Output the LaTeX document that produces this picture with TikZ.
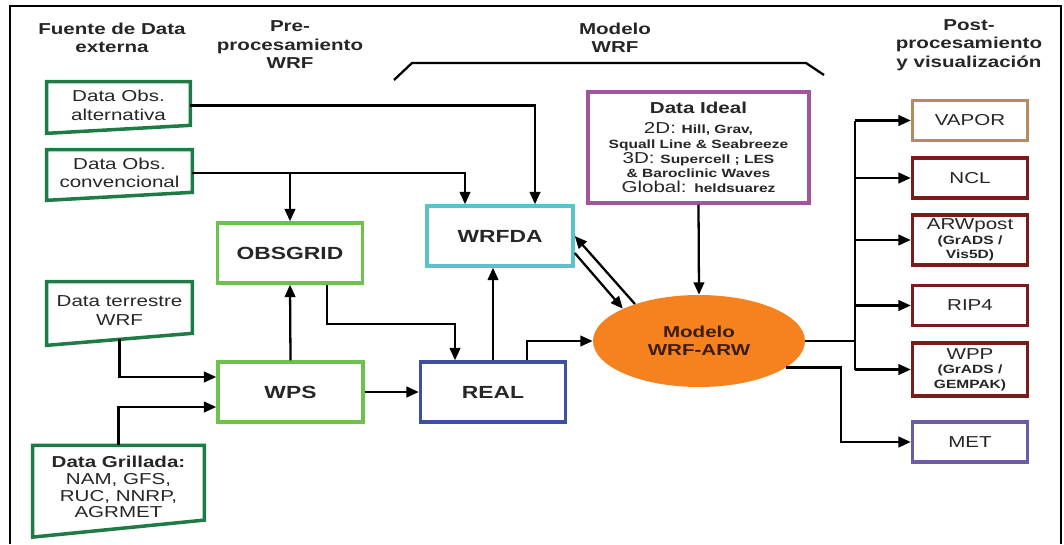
\documentclass[tikz,border=0pt]{standalone}
\usepackage{fontspec}
\setmainfont{Liberation Sans}[FakeStretch=1.3]
\usetikzlibrary{arrows.meta,calc,shapes.geometric}

\definecolor{verdeosc}{HTML}{1E7B46}
\definecolor{verdecla}{HTML}{6CC24A}
\definecolor{cian}{HTML}{5BC2CC}
\definecolor{azul}{HTML}{3D4FA0}
\definecolor{lila}{HTML}{A0559E}
\definecolor{naranja}{HTML}{F5821F}
\definecolor{cafe}{HTML}{B48C5E}
\definecolor{granate}{HTML}{7A1C1C}
\definecolor{morado}{HTML}{6B5BA8}
\definecolor{textoarw}{HTML}{3B1D0A}

\newcommand{\chico}{\bfseries\fontsize{6.8}{8.4}\selectfont}

\tikzset{
  caja/.style={draw, line width=2pt, minimum width=2.9cm, minimum height=1.2cm,
    align=center, fill=white, inner sep=1pt},
  post/.style={caja, draw=granate, minimum width=2.3cm, minimum height=0.8cm,
    font=\fontsize{9}{8.2}\selectfont},
  entrada/.style={align=center, inner sep=0pt},
  borde/.style={draw=verdeosc, line width=2pt, line join=miter},
  titulo/.style={font=\bfseries\fontsize{9}{10.5}\selectfont, align=center},
  linea/.style={line width=1.3pt},
  flecha/.style={linea, -{Triangle[length=7pt,width=6pt]}}
}

\begin{document}
\begin{tikzpicture}[x=0.02cm, y=-0.02cm, font=\fontsize{9}{10.5}\selectfont, text=black!85]
  \useasboundingbox (0,0) rectangle (1064,544);
  \draw[line width=1pt] (10,544) -- (10,6) -- (1061,6) -- (1061,544);

  % titulos
  \node[titulo] (hfuente) at (112,38) {Fuente de Data\\externa};
  \node[titulo] (hpre) at (290,45) {Pre-\\procesamiento\\WRF};
  \node[titulo] (hmodelo) at (615,38) {Modelo\\WRF};
  \node[titulo] (hpost) at (969,45) {Post-\\procesamiento\\y visualización};
  \draw[linea] (394,80) -- (412,63) -- (806,63) -- (824,75);

  % datos de entrada
  \node[entrada, minimum width=2.86cm, minimum height=0.94cm] (alt) at (118.5,105.5) {Data Obs.\\alternativa};
  \node[entrada, minimum width=2.9cm, minimum height=0.92cm] (conv) at (119.5,173) {Data Obs.\\convencional};
  \node[entrada, minimum width=2.9cm, minimum height=1.14cm] (terr) at (119.5,310.5) {Data terrestre\\WRF};
  \node[entrada, minimum width=3.42cm, minimum height=1.65cm, font=\fontsize{9}{9.6}\selectfont] (grid) at (118.5,487)
    {\textbf{Data Grillada:}\\NAM, GFS,\\RUC, NNRP,\\AGRMET};
  \foreach \n/\s in {alt/4,conv/4,terr/6,grid/8.5}
    \draw[borde] (\n.north west) -- (\n.north east) -- ([yshift=\s*0.02cm]\n.south east)
      -- ([yshift=-\s*0.02cm]\n.south west) -- cycle;

  % procesos
  \node[caja, draw=verdecla, font=\bfseries] (obsgrid) at (290,253) {OBSGRID};
  \node[caja, draw=verdecla, font=\bfseries] (wps) at (290.5,392) {WPS};
  \node[caja, draw=azul, font=\bfseries] (real) at (493,392) {REAL};
  \node[caja, draw=cian, minimum width=2.92cm, font=\bfseries] (wrfda) at (500,236) {WRFDA};
  \node[caja, draw=lila, minimum width=4.42cm, minimum height=2.22cm, font=\fontsize{9}{8.4}\selectfont] (ideal) at (698.5,147.5)
    {\textbf{Data Ideal}\\[3pt]2D: {\chico Hill, Grav,}\\{\chico Squall Line \& Seabreeze}\\
     3D: {\chico Supercell ; LES}\\{\chico \& Baroclinic Waves}\\Global: {\chico heldsuarez}};
  \node[ellipse, fill=naranja, minimum width=4.24cm, minimum height=1.84cm, inner sep=0pt,
    align=center, text=textoarw, font=\bfseries\fontsize{9}{10}\selectfont] (arw) at (699,341) {Modelo\\WRF-ARW};

  % post-procesamiento
  \node[post, draw=cafe] (vapor) at (970,120.5) {VAPOR};
  \node[post] (ncl) at (970,178) {NCL};
  \node[post, minimum height=1cm] (arwpost) at (970,240) {ARWpost\\{\chico (GrADS /}\\{\chico Vis5D)}};
  \node[post] (rip) at (970,305.5) {RIP4};
  \node[post, minimum height=1.06cm] (wpp) at (970,369.5) {WPP\\{\chico (GrADS /}\\{\chico GEMPAK)}};
  \node[post, draw=morado] (met) at (970,442) {MET};

  % conexiones
  \draw[flecha] (alt.east) -| ($(wrfda.north)+(35,0)$);
  \draw[flecha] (conv.east) -| ($(wrfda.north)+(-35,0)$);
  \draw[flecha] (conv.east -| obsgrid.north) -- (obsgrid.north);
  \draw[flecha] (wps.north) -- (obsgrid.south);
  \draw[flecha] ($(obsgrid.south)+(37,0)$) -- ++(0,39) -| ($(real.north)+(-38,0)$);
  \draw[flecha] (terr.south) |- ($(wps.west)+(0,-15)$);
  \draw[flecha] (grid.north) |- ($(wps.west)+(0,15)$);
  \draw[flecha] (wps.east) -- (real.west);
  \draw[flecha] (real.north) -- (real.north |- wrfda.south);
  \draw[flecha] ($(real.north)+(34,0)$) |- (arw.west);
  \draw[flecha] ($(wrfda.east)+(0,17)$) -- (arw.157);
  \draw[flecha] (arw.150) -- (wrfda.east);
  \draw[flecha] (ideal.south) -- (arw.north);

  \coordinate (bus) at (855,341);
  \draw[linea] (arw.east) -- (bus);
  \draw[linea] (bus |- vapor.west) -- (bus |- wpp.west);
  \foreach \b in {vapor,ncl,arwpost,rip,wpp}
    \draw[flecha] (bus |- \b.west) -- (\b.west);
  \draw[flecha] (arw.-17) -- ++(55,0) |- (met.west);
\end{tikzpicture}
\end{document}
